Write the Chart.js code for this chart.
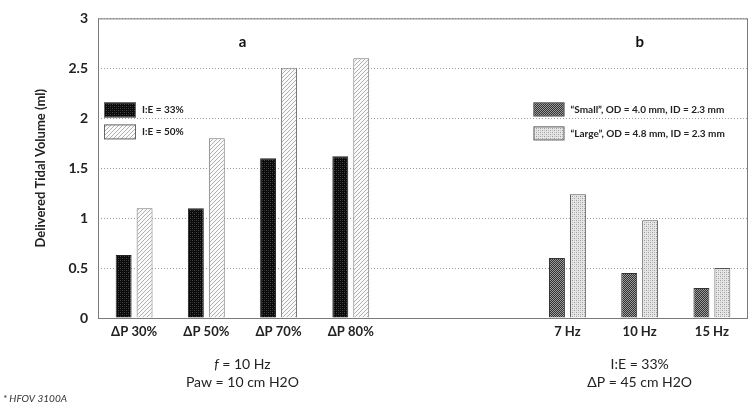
<!DOCTYPE html>
<html lang="en">
<head>
    <meta charset="UTF-8">
    <title>Delivered Tidal Volume</title>
    <style>
        body { margin: 0; padding: 0; background: #fff; }
        .wrap { width: 754px; height: 408px; position: relative; }
    </style>
</head>
<body>
    <div class="wrap"><canvas id="chart" width="754" height="408"></canvas></div>
    <script src="https://cdn.jsdelivr.net/npm/chart.js"></script>
    <script>
        // categories (two empty slots separate panel a and panel b)
        const categories = ['ΔP 30%', 'ΔP 50%', 'ΔP 70%', 'ΔP 80%', '', '', '7 Hz', '10 Hz', '15 Hz'];
        const ie33 = [0.63, 1.10, 1.60, 1.62];
        const ie50 = [1.10, 1.80, 2.50, 2.60];
        const smallTube = [0.60, 0.45, 0.30];
        const largeTube = [1.24, 0.98, 0.50];
        const yTicks = [0, 0.5, 1, 1.5, 2, 2.5, 3];

        const FONT = 'Lato, "Open Sans", sans-serif';
        const empty = n => Array(n).fill(null);
        const panelA = arr => arr.concat(empty(5));
        const panelB = arr => empty(6).concat(arr);

        function pattern(kind) {
            const c = document.createElement('canvas');
            c.width = 4; c.height = 4;
            const g = c.getContext('2d');
            if (kind === 'dotsDark') {
                g.fillStyle = '#0a0a0a'; g.fillRect(0, 0, 4, 4);
                g.fillStyle = '#4a4a4a';
                g.fillRect(0, 0, 1, 1); g.fillRect(2, 2, 1, 1);
                g.fillStyle = '#2a2a2a';
                g.fillRect(2, 0, 1, 1); g.fillRect(0, 2, 1, 1);
            } else if (kind === 'hatchLight') {
                g.fillStyle = '#fafafa'; g.fillRect(0, 0, 4, 4);
                g.fillStyle = '#b0b0b0';
                for (let i = 0; i < 4; i++) g.fillRect(i, 3 - i, 1, 1);
            } else if (kind === 'hatchDark') {
                g.fillStyle = '#9a9a9a'; g.fillRect(0, 0, 4, 4);
                g.fillStyle = '#333';
                for (let i = 0; i < 4; i++) { g.fillRect(i, 3 - i, 1, 1); g.fillRect(i, (5 - i) % 4, 1, 1); }
            } else {
                g.fillStyle = '#e6e6e6'; g.fillRect(0, 0, 4, 4);
                g.fillStyle = '#999';
                g.fillRect(0, 0, 1, 1); g.fillRect(2, 2, 1, 1);
                g.fillStyle = '#c0c0c0';
                g.fillRect(2, 0, 1, 1); g.fillRect(0, 2, 1, 1);
            }
            return g.createPattern(c, 'repeat');
        }

        const fills = {
            ie33: pattern('dotsDark'),
            ie50: pattern('hatchLight'),
            small: pattern('hatchDark'),
            large: pattern('dotsLight')
        };

        // plot frame, panel letters, inline legends and notes below the axis
        const decor = {
            id: 'decor',
            afterDraw(chart) {
                const ctx = chart.ctx;
                const a = chart.chartArea;
                const x = chart.scales.x;
                ctx.save();
                ctx.strokeStyle = '#7a7a7a';
                ctx.lineWidth = 1;
                ctx.strokeRect(a.left + 0.5, a.top + 0.5, a.right - a.left - 1, a.bottom - a.top);

                ctx.fillStyle = '#111';
                ctx.font = 'bold 15px ' + FONT;
                ctx.textAlign = 'center';
                ctx.textBaseline = 'middle';
                ctx.fillText('a', (x.getPixelForValue(1) + x.getPixelForValue(2)) / 2, a.top + 24);
                ctx.fillText('b', x.getPixelForValue(7), a.top + 24);

                const ds = chart.data.datasets;
                const legend = (items, lx, ly, w, h, step) => {
                    items.forEach((d, i) => {
                        const y = ly + i * step;
                        ctx.fillStyle = d.backgroundColor;
                        ctx.fillRect(lx, y, w, h);
                        ctx.strokeStyle = '#666';
                        ctx.strokeRect(lx + 0.5, y + 0.5, w - 1, h - 1);
                        ctx.fillStyle = '#222';
                        ctx.font = 'bold 10px ' + FONT;
                        ctx.textAlign = 'left';
                        ctx.fillText(d.label, lx + w + 6, y + h / 2);
                    });
                };
                legend([ds[0], ds[1]], a.left + 6, a.top + 84, 32, 15, 22);
                legend([ds[2], ds[3]], x.getPixelForValue(6) - 34, a.top + 84, 31, 14, 24);

                const notes = (cx, y, parts) => {
                    let total = 0;
                    parts.forEach(p => { ctx.font = p[1] + ' 14px ' + FONT; total += ctx.measureText(p[0]).width; });
                    let px = cx - total / 2;
                    parts.forEach(p => {
                        ctx.font = p[1] + ' 14px ' + FONT;
                        ctx.fillStyle = '#222';
                        ctx.textAlign = 'left';
                        ctx.fillText(p[0], px, y);
                        px += ctx.measureText(p[0]).width;
                    });
                };
                const ca = (x.getPixelForValue(1) + x.getPixelForValue(2)) / 2;
                notes(ca, 364, [['f', 'italic'], [' = 10 Hz', 'normal']]);
                notes(ca, 382, [['Paw = 10 cm H2O', 'normal']]);
                notes(x.getPixelForValue(7), 364, [['I:E = 33%', 'normal']]);
                notes(x.getPixelForValue(7), 382, [['ΔP = 45 cm H2O', 'normal']]);

                ctx.font = 'italic 10px ' + FONT;
                ctx.textAlign = 'left';
                ctx.fillStyle = '#333';
                ctx.fillText('* HFOV 3100A', 3, 399);
                ctx.restore();
            }
        };

        const barOpts = { borderWidth: 1, skipNull: true, categoryPercentage: 0.58, barPercentage: 0.76 };

        new Chart(document.getElementById('chart'), {
            type: 'bar',
            data: {
                labels: categories,
                datasets: [
                    { label: 'I:E = 33%', data: panelA(ie33), backgroundColor: fills.ie33, borderColor: '#222', ...barOpts },
                    { label: 'I:E = 50%', data: panelA(ie50), backgroundColor: fills.ie50, borderColor: '#777', ...barOpts },
                    { label: '\u201cSmall\u201d, OD = 4.0 mm, ID = 2.3 mm', data: panelB(smallTube), backgroundColor: fills.small, borderColor: '#333', ...barOpts },
                    { label: '\u201cLarge\u201d, OD = 4.8 mm, ID = 2.3 mm', data: panelB(largeTube), backgroundColor: fills.large, borderColor: '#555', ...barOpts }
                ]
            },
            options: {
                responsive: false,
                animation: false,
                layout: { padding: { left: 0, right: 6, top: 12, bottom: 0 } },
                plugins: { legend: { display: false }, tooltip: { enabled: false } },
                scales: {
                    x: {
                        grid: { display: false },
                        border: { display: false },
                        ticks: { color: '#222', font: { family: FONT, size: 13, weight: 'bold' }, maxRotation: 0, autoSkip: false, padding: -2 },
                        afterFit: s => { s.height = 90; }
                    },
                    y: {
                        min: 0, max: 3,
                        afterBuildTicks: s => { s.ticks = yTicks.map(v => ({ value: v })); },
                        grid: { color: '#9a9a9a', drawTicks: false },
                        border: { display: false, dash: [1, 2] },
                        ticks: { color: '#222', font: { family: FONT, size: 14, weight: 'bold' }, padding: 10, callback: v => String(v) },
                        title: { display: true, text: 'Delivered Tidal Volume (ml)', color: '#222', font: { family: FONT, size: 13, weight: 'bold' }, padding: { top: 33, bottom: 0 } },
                        afterFit: s => { s.width = 98; }
                    }
                }
            },
            plugins: [decor]
        });
    </script>
</body>
</html>
